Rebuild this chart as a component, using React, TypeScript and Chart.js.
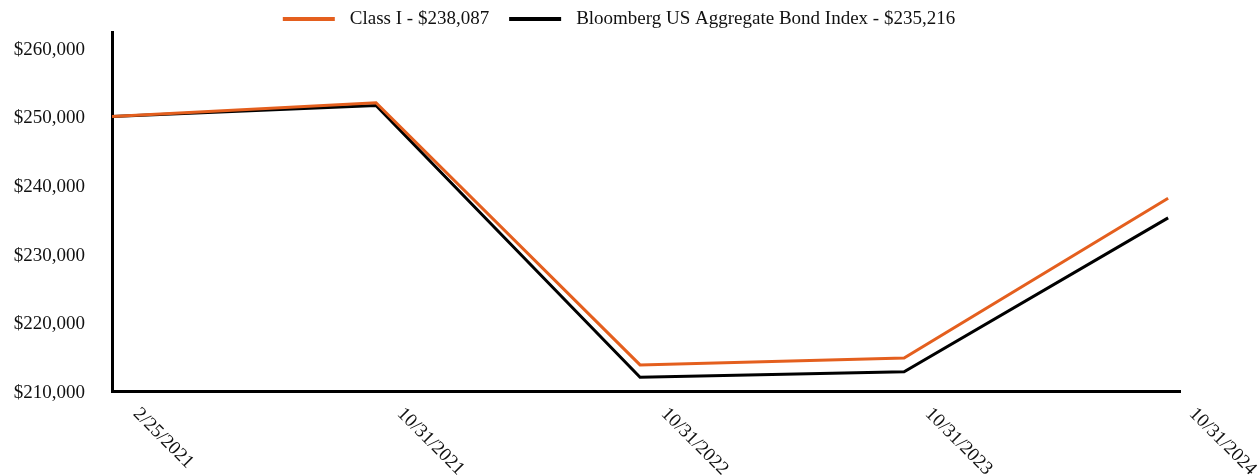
import React, { useEffect, useRef } from "react";
import { Chart, registerables } from "chart.js";

Chart.register(...registerables);

const dateLabels = ["2/25/2021", "10/31/2021", "10/31/2022", "10/31/2023", "10/31/2024"];
const classIValues = [250000, 252000, 213800, 214800, 238087];
const bloombergValues = [250000, 251600, 212000, 212800, 235216];
const seriesNames = ["Class I - $238,087", "Bloomberg US Aggregate Bond Index - $235,216"];
const yTickValues = [210000, 220000, 230000, 240000, 250000, 260000];

const ORANGE = "#E45F1E";
const FONT = "'Liberation Serif', 'Times New Roman', serif";

// Rotated date labels, reading downward to the right from each point's x position
const dateLabelPlugin = {
  id: "dateLabels",
  afterDraw(chart: any) {
    const { ctx, scales, chartArea } = chart;
    const x = scales.x;
    ctx.save();
    ctx.font = `19px ${FONT}`;
    ctx.fillStyle = "#111";
    ctx.textAlign = "left";
    ctx.textBaseline = "middle";
    dateLabels.forEach((label, i) => {
      const px = x.getPixelForValue(i);
      ctx.save();
      ctx.translate(px + 24, chartArea.bottom + 20);
      ctx.rotate(Math.PI / 4);
      ctx.fillText(label, 0, 0);
      ctx.restore();
    });
    ctx.restore();
  },
};

// Legend row above the plot: a short line swatch followed by the series name
const legendRowPlugin = {
  id: "legendRow",
  afterDraw(chart: any) {
    const { ctx } = chart;
    const swatch = 52;
    const gapAfterSwatch = 15;
    const gapBetweenItems = 20;
    const y = 19;
    ctx.save();
    ctx.font = `19px ${FONT}`;
    ctx.textBaseline = "middle";
    ctx.textAlign = "left";
    const items = chart.data.datasets.map((d: any) => ({
      color: d.borderColor,
      text: d.label,
      w: ctx.measureText(d.label).width,
    }));
    const total =
      items.reduce((s: number, it: any) => s + swatch + gapAfterSwatch + it.w, 0) +
      gapBetweenItems * (items.length - 1);
    let x = 619 - total / 2;
    items.forEach((it: any) => {
      ctx.fillStyle = it.color;
      ctx.fillRect(x, y - 2, swatch, 4);
      x += swatch + gapAfterSwatch;
      ctx.fillStyle = "#111";
      ctx.fillText(it.text, x, y);
      x += it.w + gapBetweenItems;
    });
    ctx.restore();
  },
};

export default function App() {
  const ref = useRef<HTMLCanvasElement | null>(null);

  useEffect(() => {
    if (!ref.current) return;
    const toPoints = (vals: number[]) => vals.map((v, i) => ({ x: i, y: v }));
    const chart = new Chart(ref.current, {
      type: "line",
      data: {
        datasets: [
          {
            label: seriesNames[0],
            data: toPoints(classIValues),
            borderColor: ORANGE,
            backgroundColor: ORANGE,
            borderWidth: 3,
            pointRadius: 0,
            tension: 0,
          },
          {
            label: seriesNames[1],
            data: toPoints(bloombergValues),
            borderColor: "#000",
            backgroundColor: "#000",
            borderWidth: 3,
            pointRadius: 0,
            tension: 0,
          },
        ],
      },
      options: {
        animation: false,
        responsive: false,
        layout: { padding: { left: 0, right: 80, top: 32, bottom: 85 } },
        plugins: {
          tooltip: { enabled: false },
          legend: { display: false },
        },
        scales: {
          x: {
            type: "linear",
            min: 0,
            max: 4.045,
            grid: { display: false },
            ticks: { display: false },
            border: { display: true, color: "#000", width: 3 },
            afterFit(scale: any) {
              scale.height = 0;
            },
          },
          y: {
            min: 210000,
            max: 262300,
            grid: { display: false },
            border: { display: true, color: "#000", width: 3 },
            afterBuildTicks(scale: any) {
              scale.ticks = yTickValues.map((v) => ({ value: v }));
            },
            afterFit(scale: any) {
              scale.width = 112;
            },
            ticks: {
              padding: 19,
              labelOffset: 2,
              color: "#111",
              font: { family: FONT, size: 19 },
              callback: (v: any) => "$" + Number(v).toLocaleString("en-US"),
            },
          },
        },
      },
      plugins: [dateLabelPlugin, legendRowPlugin],
    });
    return () => chart.destroy();
  }, []);

  return (
    <div style={{ position: "fixed", left: 0, top: 0, width: 1260, height: 476, background: "#fff" }}>
      <canvas ref={ref} width={1260} height={476} />
    </div>
  );
}
